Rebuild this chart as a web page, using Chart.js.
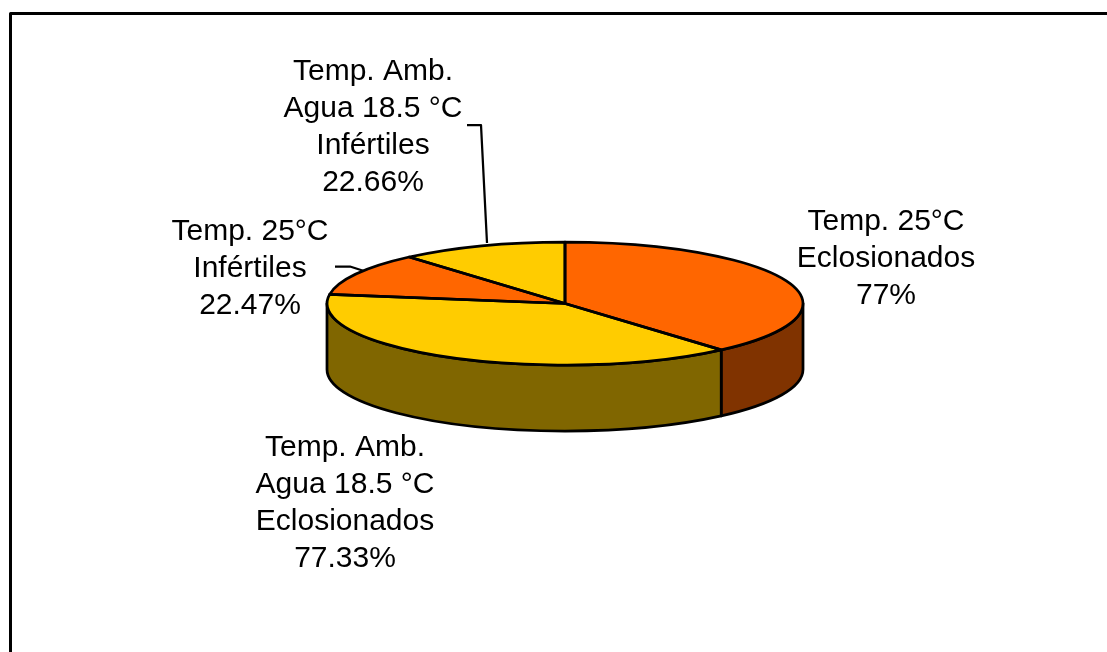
<!DOCTYPE html>
<html>
<head>
<meta charset="utf-8">
<style>html,body{margin:0;padding:0;background:#fff;overflow:hidden}canvas{display:block}</style>
<script src="https://cdn.jsdelivr.net/npm/chart.js"></script>
</head>
<body>
<canvas id="c" width="1107" height="652"></canvas>
<script>
const categories = ["Temp. 25°C Eclosionados", "Temp. Amb. Agua 18.5 °C Eclosionados", "Temp. 25°C Infértiles", "Temp. Amb. Agua 18.5 °C Infértiles"];
const values = [77, 77.33, 22.47, 22.66];
const topColors = ["#FF6600", "#FFCC00", "#FF6600", "#FFCC00"];
const sideColors = ["#803300", "#806600", "#803300", "#806600"];
const labelLines = [
  ["Temp. 25°C", "Eclosionados", "77%"],
  ["Temp. Amb.", "Agua 18.5 °C", "Eclosionados", "77.33%"],
  ["Temp. 25°C", "Infértiles", "22.47%"],
  ["Temp. Amb.", "Agua 18.5 °C", "Infértiles", "22.66%"]
];

const squash = 61.5 / 238, depth = 66, lineW = 2.75;
const labelPos = [[886, 230], [345, 456], [250, 240], [373, 79.5]];
const lineStep = 37;
const leaders = [
  [[467, 125], [481, 125], [487, 243]],
  [[335, 266.5], [350, 266.5], [364, 271]]
];

function ellipsePath(ctx, a, y, from, to, ccw, move) {
  ctx.save();
  ctx.translate(a.x, y);
  ctx.scale(1, squash);
  if (move) ctx.moveTo(a.outerRadius * Math.cos(from), a.outerRadius * Math.sin(from));
  ctx.arc(0, 0, a.outerRadius, from, to, ccw);
  ctx.restore();
}

const pie3d = {
  id: "pie3d",
  beforeDatasetDraw(chart) {
    const ctx = chart.ctx, arcs = chart.getDatasetMeta(0).data;
    ctx.lineWidth = lineW;
    ctx.strokeStyle = "#000";
    ctx.lineJoin = "round";
    arcs.forEach((a, i) => {
      const s = Math.max(a.startAngle, 0), e = Math.min(a.endAngle, Math.PI);
      if (e <= s) return;
      ctx.beginPath();
      ellipsePath(ctx, a, a.y, s, e, false, true);
      ellipsePath(ctx, a, a.y + depth, e, s, true, false);
      ctx.closePath();
      ctx.fillStyle = sideColors[i];
      ctx.fill();
      ctx.stroke();
    });
    const a0 = arcs[0];
    ctx.save();
    ctx.translate(a0.x, a0.y);
    ctx.scale(1, squash);
    ctx.translate(-a0.x, -a0.y);
  },
  afterDatasetDraw(chart) {
    const ctx = chart.ctx, arcs = chart.getDatasetMeta(0).data;
    ctx.restore();
    ctx.lineWidth = lineW;
    ctx.strokeStyle = "#000";
    ctx.lineJoin = "round";
    arcs.forEach(a => {
      ctx.beginPath();
      ctx.moveTo(a.x, a.y);
      ellipsePath(ctx, a, a.y, a.startAngle, a.endAngle, false, false);
      ctx.closePath();
      ctx.stroke();
    });
  },
  afterDraw(chart) {
    const ctx = chart.ctx;
    ctx.save();
    ctx.strokeStyle = "#000";
    ctx.lineWidth = 3;
    ctx.beginPath();
    ctx.moveTo(10.5, 660);
    ctx.lineTo(10.5, 13.5);
    ctx.lineTo(1115, 13.5);
    ctx.stroke();
    ctx.lineWidth = 2.25;
    leaders.forEach(pts => {
      ctx.beginPath();
      pts.forEach((p, i) => i ? ctx.lineTo(p[0], p[1]) : ctx.moveTo(p[0], p[1]));
      ctx.stroke();
    });
    ctx.fillStyle = "#000";
    ctx.font = '30px "Liberation Sans", Arial, sans-serif';
    ctx.textAlign = "center";
    ctx.textBaseline = "alphabetic";
    labelLines.forEach((lines, i) => {
      lines.forEach((t, j) => {
        ctx.fillText(t, labelPos[i][0], labelPos[i][1] + j * lineStep);
      });
    });
    ctx.restore();
  }
};

new Chart(document.getElementById("c"), {
  type: "pie",
  data: {
    labels: categories,
    datasets: [{ data: values, backgroundColor: topColors, borderWidth: 0 }]
  },
  options: {
    responsive: false,
    animation: false,
    layout: { padding: { left: 327, right: 304, top: 65.5, bottom: 110.5 } },
    plugins: { legend: { display: false }, tooltip: { enabled: false }, title: { display: false } }
  },
  plugins: [pie3d]
});
</script>
</body>
</html>
